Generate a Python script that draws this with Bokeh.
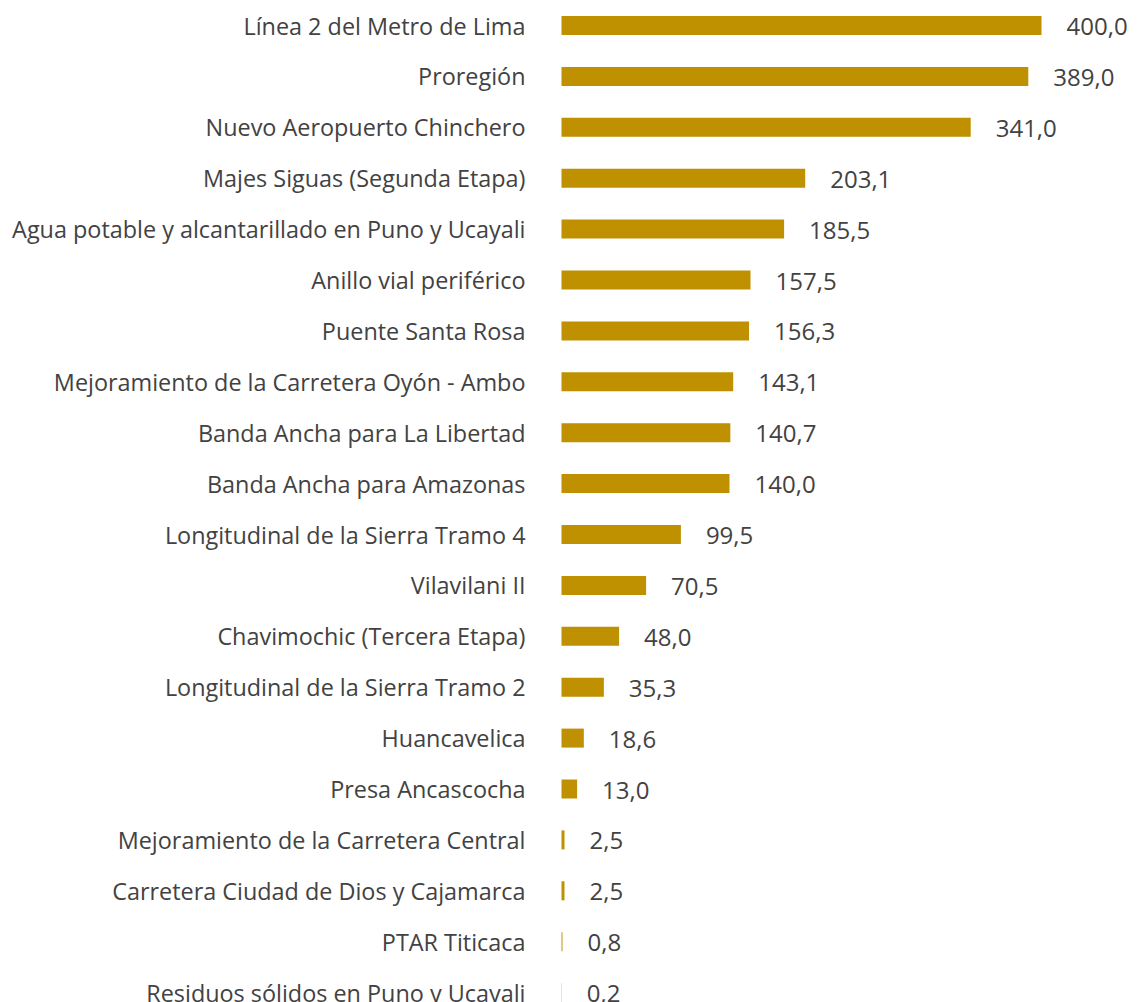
from bokeh.plotting import figure
from bokeh.models import Range1d, ColumnDataSource
from bokeh.core.properties import value
from bokeh.embed import file_html
from bokeh.resources import INLINE

projects = [
    "Línea 2 del Metro de Lima",
    "Proregión",
    "Nuevo Aeropuerto Chinchero",
    "Majes Siguas (Segunda Etapa)",
    "Agua potable y alcantarillado en Puno y Ucayali",
    "Anillo vial periférico",
    "Puente Santa Rosa",
    "Mejoramiento de la Carretera Oyón - Ambo",
    "Banda Ancha para La Libertad",
    "Banda Ancha para Amazonas",
    "Longitudinal de la Sierra Tramo 4",
    "Vilavilani II",
    "Chavimochic (Tercera Etapa)",
    "Longitudinal de la Sierra Tramo 2",
    "Huancavelica",
    "Presa Ancascocha",
    "Mejoramiento de la Carretera Central",
    "Carretera Ciudad de Dios y Cajamarca",
    "PTAR Titicaca",
    "Residuos sólidos en Puno y Ucayali",
]
amounts = [400.0, 389.0, 341.0, 203.1, 185.5, 157.5, 156.3, 143.1, 140.7, 140.0,
           99.5, 70.5, 48.0, 35.3, 18.6, 13.0, 2.5, 2.5, 0.8, 0.2]

W, H = 1137, 1002
row_px = 50.9
first_row = 25.0
px_per_unit = 1.2
zero_px = 561.0

rows = list(range(len(projects)))
src = ColumnDataSource(dict(
    y=rows,
    v=amounts,
    name=projects,
    lbl=[f"{a:.1f}".replace(".", ",") for a in amounts],
))

p = figure(width=W, height=H, output_backend="svg", toolbar_location=None,
           x_range=Range1d(-zero_px / px_per_unit, (W - zero_px) / px_per_unit),
           y_range=Range1d((H - first_row) / row_px, -first_row / row_px),
           min_border=0, outline_line_color=None)
p.axis.visible = False
p.grid.visible = False

p.hbar(y="y", left=0, right="v", height=19 / row_px, source=src,
       fill_color="#BF9000", line_color=None)

p.text(x=0, y="y", text="name", source=src, x_offset=-36,
       text_align="right", text_baseline="middle",
       text_font=value("Open Sans"), text_font_size="23.4px", text_color="#424242")

p.text(x="v", y="y", text="lbl", source=src, x_offset=25, y_offset=1,
       text_align="left", text_baseline="middle",
       text_font=value("Open Sans"), text_font_size="24px", text_color="#424242")

open("out.html", "w").write(file_html(p, INLINE))
